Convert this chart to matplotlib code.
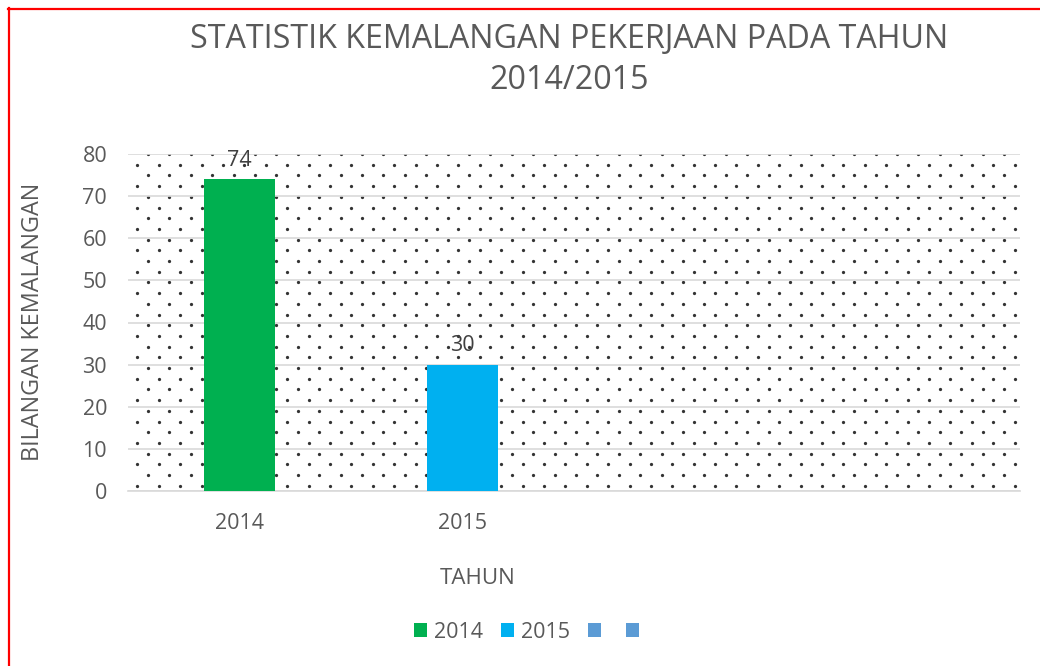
import matplotlib.pyplot as plt
from matplotlib.patches import Patch
from matplotlib.lines import Line2D
import numpy as np

# data
years = ['2014', '2015', '', '']
values = [74, 30]
bar_colors = ['#00B050', '#00B0F0']
legend_labels = ['2014', '2015', '', '']
legend_colors = ['#00B050', '#00B0F0', '#5B9BD5', '#5B9BD5']
yticks = [0, 10, 20, 30, 40, 50, 60, 70, 80]

plt.rcParams['font.family'] = ['Open Sans', 'DejaVu Sans']
txt = '#595959'

W, H = 1040, 666
fig = plt.figure(figsize=(W / 100, H / 100), dpi=100)

# plot area in pixels
left, right, top, bottom = 128, 1020, 154, 491
ax = fig.add_axes([left / W, 1 - bottom / H, (right - left) / W, (bottom - top) / H])

# dotted background texture
aw, ah = right - left, bottom - top
dx, dy = 21.4, 10.7
pts_x, pts_y = [], []
for i, ry in enumerate(np.arange(0, ah + 0.1, dy)):
    x0 = 20 if i % 2 == 0 else 9.3
    for rx in np.arange(x0, aw, dx):
        pts_x.append(rx / aw)
        pts_y.append(1 - ry / ah)
ax.scatter(pts_x, pts_y, s=5.5, color='#333333', transform=ax.transAxes,
           zorder=0.5, linewidths=0, clip_on=True)

# bars
x = np.arange(len(years))
bars = ax.bar(x[:len(values)], values, width=0.314, color=bar_colors, zorder=3)
for b, v in zip(bars, values):
    ax.annotate(str(v), (b.get_x() + b.get_width() / 2, v), xytext=(0, 6),
                textcoords='offset points', ha='center', va='bottom',
                fontsize=15.5, color='#404040', zorder=4)

ax.set_xlim(-0.5, len(years) - 0.5)
ax.set_ylim(0, 80)
ax.set_yticks(yticks)
ax.set_xticks(x)
ax.set_xticklabels(years)
ax.yaxis.grid(True, color='#D9D9D9', linewidth=1.2, zorder=1)
ax.set_axisbelow(True)
for s in ['top', 'right', 'left']:
    ax.spines[s].set_visible(False)
ax.spines['bottom'].set_color('#D9D9D9')
ax.spines['bottom'].set_linewidth(1.2)
ax.tick_params(length=0, labelsize=15.5, colors=txt)
ax.tick_params(axis='y', pad=15)
ax.tick_params(axis='x', pad=16)

# titles
fig.text(569 / W, 1 - 60 / H, 'STATISTIK KEMALANGAN PEKERJAAN PADA TAHUN\n2014/2015',
         ha='center', va='center', fontsize=23.2, color=txt, linespacing=1.33)
fig.text(33 / W, 1 - 322 / H, 'BILANGAN KEMALANGAN', rotation=90,
         ha='center', va='center', fontsize=16.8, color=txt)
fig.text(478 / W, 1 - 578 / H, 'TAHUN', ha='center', va='center',
         fontsize=16, color=txt)

# legend
handles = [Patch(facecolor=c, edgecolor='none') for c in legend_colors]
fig.legend(handles, legend_labels, loc='center', bbox_to_anchor=(530 / W, 1 - 632 / H),
           ncol=4, frameon=False, fontsize=15.5, labelcolor=txt,
           handlelength=0.6, handleheight=0.6, handletextpad=0.33,
           columnspacing=0.84, borderpad=0)

# red outer border
fig.add_artist(Line2D([8.5 / W, 8.5 / W], [1 - 8 / H, 0], color='red', lw=1.6))
fig.add_artist(Line2D([8 / W, 1], [1 - 8.5 / H, 1 - 8.5 / H], color='red', lw=1.6))

fig.savefig('out.png', dpi=100)
